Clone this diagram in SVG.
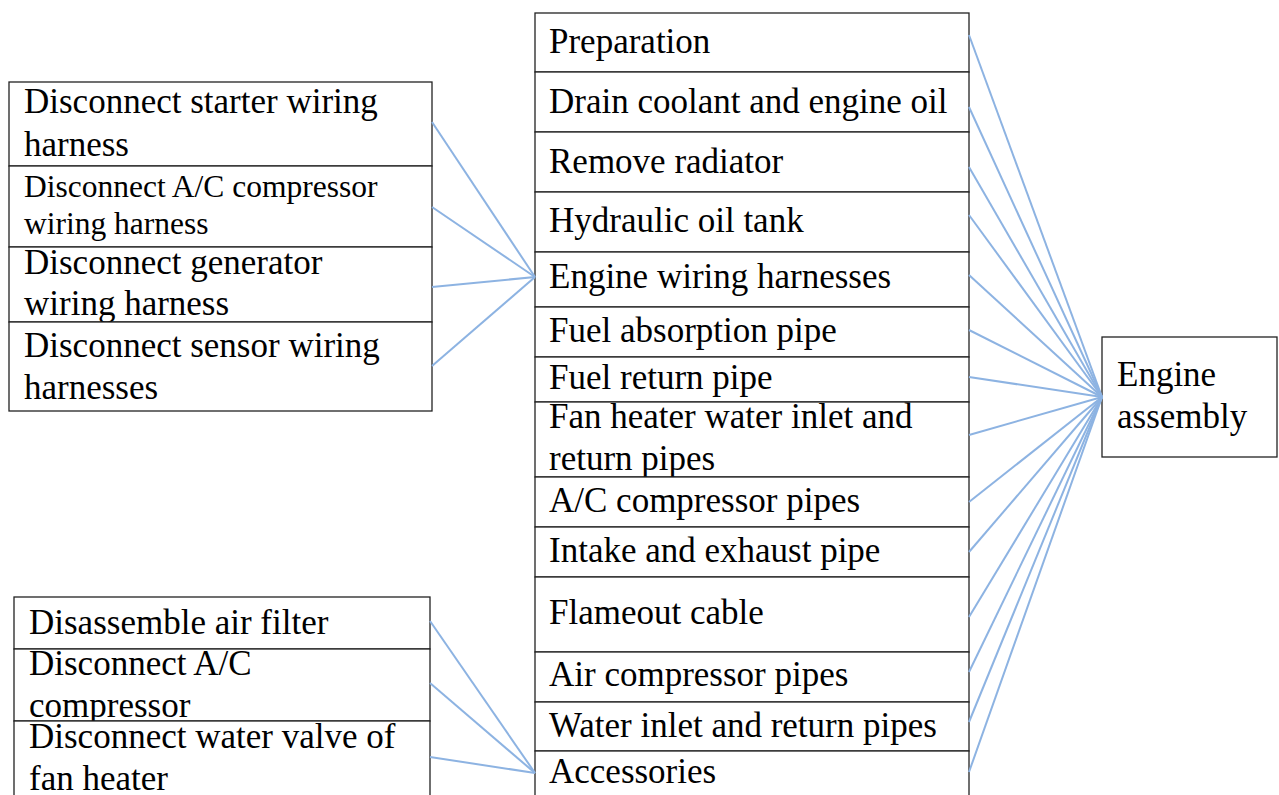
<svg xmlns="http://www.w3.org/2000/svg" width="1279" height="795" viewBox="0 0 1279 795">
<style>
.b{fill:#fff;stroke:#222;stroke-width:1.3}
.t{font-family:"Liberation Serif","Times New Roman",serif;font-size:35px;fill:#000}
.s{font-size:31.5px}
.c line{stroke:#8DB3E2;stroke-width:2}
</style>
<rect width="1279" height="795" fill="#fff"/>
<g id="left-top">
<g id="n-starter"><rect class="b" x="9" y="82" width="423" height="84"/><text class="t" x="24" y="113">Disconnect starter wiring</text><text class="t" x="24" y="156">harness</text></g>
<g id="n-ac-harness"><rect class="b" x="9" y="166" width="423" height="81"/><text class="t s" x="24" y="197">Disconnect A/C compressor</text><text class="t s" x="24" y="234">wiring harness</text></g>
<g id="n-generator"><rect class="b" x="9" y="247" width="423" height="75"/><text class="t" x="24" y="274">Disconnect generator</text><text class="t" x="24" y="315">wiring harness</text></g>
<g id="n-sensor"><rect class="b" x="9" y="322" width="423" height="89"/><text class="t" x="24" y="357">Disconnect sensor wiring</text><text class="t" x="24" y="399">harnesses</text></g>
</g>
<g id="left-bottom">
<g id="n-airfilter"><rect class="b" x="14" y="597" width="416" height="52"/><text class="t" x="29" y="634">Disassemble air filter</text></g>
<g id="n-accomp"><rect class="b" x="14" y="649" width="416" height="72"/><text class="t" x="29" y="675">Disconnect A/C</text><text class="t" x="29" y="717">compressor</text></g>
<g id="n-watervalve"><rect class="b" x="14" y="721" width="416" height="80"/><text class="t" x="29" y="748">Disconnect water valve of</text><text class="t" x="29" y="790">fan heater</text></g>
</g>
<g id="middle">
<g id="m1"><rect class="b" x="535" y="13" width="434" height="59"/><text class="t" x="549" y="53">Preparation</text></g>
<g id="m2"><rect class="b" x="535" y="72" width="434" height="60"/><text class="t" x="549" y="113">Drain coolant and engine oil</text></g>
<g id="m3"><rect class="b" x="535" y="132" width="434" height="60"/><text class="t" x="549" y="173">Remove radiator</text></g>
<g id="m4"><rect class="b" x="535" y="192" width="434" height="60"/><text class="t" x="549" y="232">Hydraulic oil tank</text></g>
<g id="m5"><rect class="b" x="535" y="252" width="434" height="55"/><text class="t" x="549" y="288">Engine wiring harnesses</text></g>
<g id="m6"><rect class="b" x="535" y="307" width="434" height="50"/><text class="t" x="549" y="342">Fuel absorption pipe</text></g>
<g id="m7"><rect class="b" x="535" y="357" width="434" height="45"/><text class="t" x="549" y="389">Fuel return pipe</text></g>
<g id="m8"><rect class="b" x="535" y="402" width="434" height="75"/><text class="t" x="549" y="428">Fan heater water inlet and</text><text class="t" x="549" y="470">return pipes</text></g>
<g id="m9"><rect class="b" x="535" y="477" width="434" height="50"/><text class="t" x="549" y="512">A/C compressor pipes</text></g>
<g id="m10"><rect class="b" x="535" y="527" width="434" height="50"/><text class="t" x="549" y="562">Intake and exhaust pipe</text></g>
<g id="m11"><rect class="b" x="535" y="577" width="434" height="75"/><text class="t" x="549" y="624">Flameout cable</text></g>
<g id="m12"><rect class="b" x="535" y="652" width="434" height="50"/><text class="t" x="549" y="686">Air compressor pipes</text></g>
<g id="m13"><rect class="b" x="535" y="702" width="434" height="49"/><text class="t" x="549" y="737">Water inlet and return pipes</text></g>
<g id="m14"><rect class="b" x="535" y="751" width="434" height="50"/><text class="t" x="549" y="783">Accessories</text></g>
</g>
<g id="engine-assembly"><rect class="b" x="1102" y="337" width="175" height="120"/><text class="t" x="1117" y="386">Engine</text><text class="t" x="1117" y="428">assembly</text></g>
<g id="connectors" class="c">
<line x1="432" y1="122" x2="535" y2="277"/>
<line x1="432" y1="207" x2="535" y2="277"/>
<line x1="432" y1="287" x2="535" y2="277"/>
<line x1="432" y1="366" x2="535" y2="277"/>
<line x1="430" y1="621" x2="535" y2="773"/>
<line x1="430" y1="683" x2="535" y2="773"/>
<line x1="430" y1="757" x2="535" y2="773"/>
<line x1="969" y1="35" x2="1102" y2="397"/>
<line x1="969" y1="107" x2="1102" y2="397"/>
<line x1="969" y1="167" x2="1102" y2="397"/>
<line x1="969" y1="215" x2="1102" y2="397"/>
<line x1="969" y1="275" x2="1102" y2="397"/>
<line x1="969" y1="330" x2="1102" y2="397"/>
<line x1="969" y1="377" x2="1102" y2="397"/>
<line x1="969" y1="435" x2="1102" y2="397"/>
<line x1="969" y1="502" x2="1102" y2="397"/>
<line x1="969" y1="552" x2="1102" y2="397"/>
<line x1="969" y1="617" x2="1102" y2="397"/>
<line x1="969" y1="672" x2="1102" y2="397"/>
<line x1="969" y1="722" x2="1102" y2="397"/>
<line x1="969" y1="772" x2="1102" y2="397"/>
</g>
</svg>
